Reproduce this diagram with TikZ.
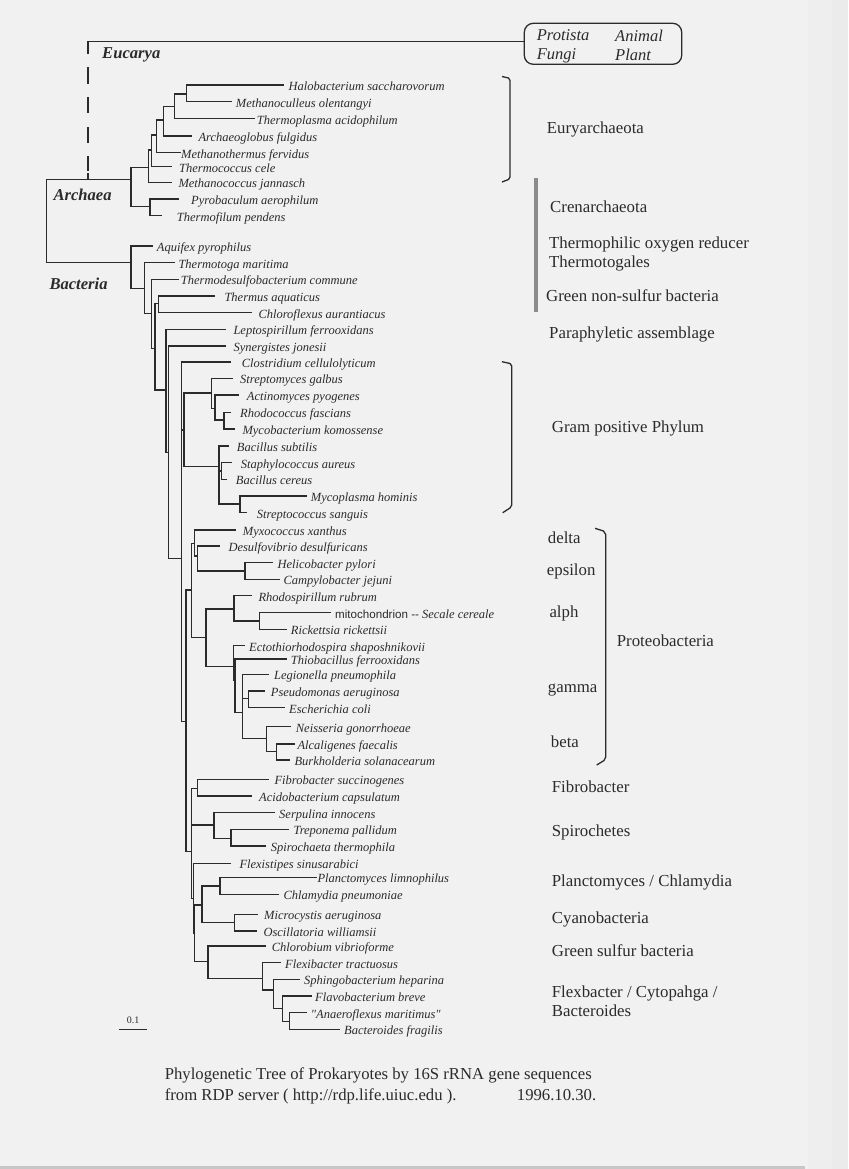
\documentclass[tikz,border=0pt]{standalone}
\usepackage{fontspec}
\setmainfont{Liberation Serif}
\newfontfamily\helv{Liberation Sans}
\definecolor{ink}{gray}{0.17}
\definecolor{bg}{gray}{0.945}
\definecolor{edge1}{gray}{0.935}
\definecolor{edge2}{gray}{0.922}
\definecolor{botband}{gray}{0.78}
\definecolor{barg}{gray}{0.55}
\tikzset{
  br/.style={line width=1.4pt, draw=ink, line cap=rect},
  brk/.style={line width=1.3pt, draw=ink, line join=round},
  lab/.style={anchor=west, inner sep=0pt, font=\fontsize{12.5}{14}\selectfont\itshape, text height=8.3pt, text depth=0pt, text=ink, yshift=-1.5pt},
  grp/.style={anchor=west, inner sep=0pt, font=\fontsize{16.8}{19}\selectfont, text height=11pt, text depth=0pt, text=ink},
  dom/.style={anchor=west, inner sep=0pt, font=\fontsize{16.6}{19}\selectfont\bfseries\itshape, text height=11pt, text depth=0pt, text=ink},
  euk/.style={anchor=west, inner sep=0pt, font=\fontsize{16.5}{19}\selectfont\itshape, text height=11pt, text depth=0pt, text=ink},
  captext/.style={anchor=west, inner sep=0pt, font=\fontsize{16.7}{19}\selectfont, text height=11pt, text depth=0pt, text=ink}
}
\begin{document}
\begin{tikzpicture}[x=1pt,y=-1pt]
\useasboundingbox (0,0) rectangle (848,1169);
% background
\fill[bg] (0,0) rectangle (848,1169);
\fill[edge1] (808,0) rectangle (848,1169);
\fill[edge2] (832,0) rectangle (848,1169);
\fill[botband] (0,1165.5) rectangle (805,1169);

% ---------- Eucarya ----------
\node[draw=ink, line width=1.3pt, rounded corners=9pt, minimum width=157.4pt, minimum height=41pt, inner sep=0pt] (eukbox) at (603,43.8) {};
\draw[br] (88,53) -- (88,41.5) -- (eukbox.west |- 0,41.5);
\draw[br] (88,68) -- (88,83);
\draw[br] (88,98) -- (88,112.5);
\draw[br] (88,128) -- (88,142);
\draw[br] (88,157) -- (88,170.5);
\draw[br] (88,174) -- (88,179.5);
\node[euk] (protista) at (536.7,35) {Protista};
\node[euk] (animal) at (615,35.7) {Animal};
\node[euk] (fungi) at (536.7,54.3) {Fungi};
\node[euk] (plant) at (615,55) {Plant};
\node[dom] (eucarya) at (102,53) {Eucarya};
\node[dom] (archaea) at (53.3,195) {Archaea};
\node[dom] (bacteria) at (49.3,284) {Bacteria};

% ---------- Root ----------
\draw[br] (131,179.5) -| (46.7,262.7) -- (131,262.7);

% ---------- Archaea ----------
\draw[br] (283,85) -| (186.7,101.7) -- (231.7,101.7);
\draw[br] (186.7,94) -| (174.3,118.7) -- (254,118.7);
\draw[br] (174.3,106.7) -| (163.3,136) -- (191.7,136);
\draw[br] (163.3,120) -| (156.7,152.7) -- (180,152.7);
\draw[br] (156.7,135) -| (151.7,166.7) -- (171.7,166.7);
\draw[br] (151.7,150) -| (148.3,182.3) -- (171.7,182.3);
\draw[br] (148.3,167.7) -| (131,206.7) -- (150,206.7);
\draw[br] (178.3,199) -| (150,215.7) -- (161.7,215.7);

\node[lab] (t1) at (288.3,85) {Halobacterium saccharovorum};
\node[lab] (t2) at (235.7,101.7) {Methanoculleus olentangyi};
\node[lab] (t3) at (256.7,118.7) {Thermoplasma acidophilum};
\node[lab] (t4) at (198.3,136) {Archaeoglobus fulgidus};
\node[lab] (t5) at (181,152.7) {Methanothermus fervidus};
\node[lab] (t6) at (179,166.7) {Thermococcus cele};
\node[lab] (t7) at (178.3,182.3) {Methanococcus jannasch};
\node[lab] (t8) at (191,199) {Pyrobaculum aerophilum};
\node[lab] (t9) at (176.7,215.7) {Thermofilum pendens};

% ---------- Bacteria backbone ----------
\draw[br] (152.3,246) -| (131,288.3) -- (144.3,288.3);
\draw[br] (174.3,262.7) -| (144.3,313.3) -- (151.7,313.3);
\draw[br] (178.3,279.3) -| (151.7,348.3) -- (155,348.3);
\draw[br] (158.3,303.3) -| (155,390) -- (166,390);
\draw[br] (214.3,296) -| (158.3,312.7) -- (251.7,312.7);
\draw[br] (225,329.3) -| (166,452.7) -- (168.3,452.7);
\draw[br] (225,346) -| (168.3,558.3) -- (181.7,558.3);
\draw[br] (230,362) -| (181.7,721.7) -- (186,721.7);
\draw[br] (181.7,430) -- (184,430);

\node[lab] (b1) at (156.7,246) {Aquifex pyrophilus};
\node[lab] (b2) at (178.3,262.7) {Thermotoga maritima};
\node[lab] (b3) at (180.7,279.3) {Thermodesulfobacterium commune};
\node[lab] (b4) at (224.3,296) {Thermus aquaticus};
\node[lab] (b5) at (258.3,312.7) {Chloroflexus aurantiacus};
\node[lab] (b6) at (233.3,329.3) {Leptospirillum ferrooxidans};
\node[lab] (b7) at (233.3,346) {Synergistes jonesii};

% ---------- Gram positive ----------
\draw[br] (211.7,393) -| (184,466.7) -- (219,466.7);
\draw[br] (232.7,378.3) -| (211.7,408.3) -- (215,408.3);
\draw[br] (238.3,395) -| (215,420) -- (224,420);
\draw[br] (230.7,412.3) -| (224,429) -- (234,429);
\draw[br] (228.3,446) -| (219,504) -- (240,504);
\draw[br] (219,471) -- (221.7,471);
\draw[br] (231.7,462.7) -| (221.7,479.3) -- (226.7,479.3);
\draw[br] (306.7,496) -| (240,512.7) -- (246.7,512.7);

\node[lab] (g1) at (241.7,362) {Clostridium cellulolyticum};
\node[lab] (g2) at (240,378.3) {Streptomyces galbus};
\node[lab] (g3) at (246.7,395) {Actinomyces pyogenes};
\node[lab] (g4) at (240,412.3) {Rhodococcus fascians};
\node[lab] (g5) at (242.3,429) {Mycobacterium komossense};
\node[lab] (g6) at (236.7,446) {Bacillus subtilis};
\node[lab] (g7) at (240.7,462.7) {Staphylococcus aureus};
\node[lab] (g8) at (235.7,479.3) {Bacillus cereus};
\node[lab] (g9) at (310.7,496) {Mycoplasma hominis};
\node[lab] (g10) at (256.7,512.7) {Streptococcus sanguis};

% ---------- Proteobacteria ----------
\draw[br] (191.7,590) -| (186,851.7) -- (191.7,851.7);
\draw[br] (194.3,543.3) -| (191.7,637.7) -- (206,637.7);
\draw[br] (235,530) -| (194.3,556) -- (197.7,556);
\draw[br] (219.3,546) -| (197.7,571) -- (245,571);
\draw[br] (272.7,562.7) -| (245,579.3) -- (279.3,579.3);
\draw[br] (234,609) -| (206,666.7) -- (233.3,666.7);
\draw[br] (251.7,595.7) -| (234,621) -- (259.3,621);
\draw[br] (330,612.7) -| (259.3,629.3) -- (286,629.3);
\draw[br] (244,645.7) -| (233.3,680) -- (235,680);
\draw[br] (286.7,659) -| (235,712.7) -- (242.7,712.7);
\draw[br] (268.3,674.3) -| (242.7,738.3) -- (266.7,738.3);
\draw[br] (242.7,698.3) -- (248.3,698.3);
\draw[br] (264,691) -| (248.3,707.7) -- (284,707.7);
\draw[br] (290.7,726.7) -| (266.7,751.7) -- (276.7,751.7);
\draw[br] (294.3,744) -| (276.7,760) -- (289.3,760);

\node[lab] (p1) at (242.7,530) {Myxococcus xanthus};
\node[lab] (p2) at (228.3,546) {Desulfovibrio desulfuricans};
\node[lab] (p3) at (277.3,562.7) {Helicobacter pylori};
\node[lab] (p4) at (283.3,579.3) {Campylobacter jejuni};
\node[lab] (p5) at (258.3,595.7) {Rhodospirillum rubrum};
\node[lab] (p6) at (335,612.7) {\upshape{\helv\fontsize{11.6}{14}\selectfont mitochondrion --} \itshape Secale cereale};
\node[lab] (p7) at (290.7,629.3) {Rickettsia rickettsii};
\node[lab] (p8) at (249,645.7) {Ectothiorhodospira shaposhnikovii};
\node[lab] (p9) at (290.7,659) {Thiobacillus ferrooxidans};
\node[lab] (p10) at (274,674.3) {Legionella pneumophila};
\node[lab] (p11) at (270.7,691) {Pseudomonas aeruginosa};
\node[lab] (p12) at (289,707.7) {Escherichia coli};
\node[lab] (p13) at (295.7,726.7) {Neisseria gonorrhoeae};
\node[lab] (p14) at (297.3,744) {Alcaligenes faecalis};
\node[lab] (p15) at (294.3,760) {Burkholderia solanacearum};

% ---------- remaining groups ----------
\draw[br] (197.3,788.3) -| (191.7,898.3) -- (193.3,898.3);
\draw[br] (268.3,779.3) -| (197.3,796) -- (251.7,796);
\draw[br] (191.7,825) -- (214,825);
\draw[br] (274,812.7) -| (214,838.3) -- (231,838.3);
\draw[br] (288.3,829.3) -| (231,846) -- (265,846);
\draw[br] (230,863.3) -| (193.3,933.3) -- (194.3,933.3);
\draw[br] (202,905) -| (194.3,961.7) -- (208,961.7);
\draw[br] (220,886) -| (202,922.7) -- (234.3,922.7);
\draw[br] (316,877.3) -| (220,894.3) -- (278.3,894.3);
\draw[br] (257.3,914.3) -| (234.3,931) -- (256.7,931);
\draw[br] (265,946) -| (208,978.3) -- (262.3,978.3);
\draw[br] (280.7,962.7) -| (262.3,990) -- (273.3,990);
\draw[br] (299.3,979.3) -| (273.3,1008.3) -- (282.7,1008.3);
\draw[br] (311.7,996) -| (282.7,1021.7) -- (289.3,1021.7);
\draw[br] (306,1012.7) -| (289.3,1029.3) -- (339.3,1029.3);

\node[lab] (r1) at (274.3,779.3) {Fibrobacter succinogenes};
\node[lab] (r2) at (259,796) {Acidobacterium capsulatum};
\node[lab] (r3) at (279,812.7) {Serpulina innocens};
\node[lab] (r4) at (293.3,829.3) {Treponema pallidum};
\node[lab] (r5) at (270.7,846) {Spirochaeta thermophila};
\node[lab] (r6) at (239.3,863.3) {Flexistipes sinusarabici};
\node[lab] (r7) at (317.3,877.3) {Planctomyces limnophilus};
\node[lab] (r8) at (283.3,894.3) {Chlamydia pneumoniae};
\node[lab] (r9) at (264,914.3) {Microcystis aeruginosa};
\node[lab] (r10) at (263.3,931) {Oscillatoria williamsii};
\node[lab] (r11) at (271.7,946) {Chlorobium vibrioforme};
\node[lab] (r12) at (285,962.7) {Flexibacter tractuosus};
\node[lab] (r13) at (304,979.3) {Sphingobacterium heparina};
\node[lab] (r14) at (315,996) {Flavobacterium breve};
\node[lab] (r15) at (310.7,1012.7) {\textquotedbl Anaeroflexus maritimus\textquotedbl};
\node[lab] (r16) at (344,1029.3) {Bacteroides fragilis};

% ---------- scale bar ----------
\node[inner sep=0pt, font=\fontsize{10}{12}\selectfont, text=ink] (scale) at (133,1020) {0.1};
\draw[br] (120,1029.3) -- (146.7,1029.3);

% ---------- brackets and group labels ----------
\draw[brk] (502,76.5) -- (508.5,78) -- (510,80.5) -- (510,177) -- (508.5,179.5) -- (502,182);
\draw[brk] (502,361.7) -- (510,363.5) -- (511.7,366) -- (511.7,505) -- (510,508) -- (502.7,512.7);
\draw[brk] (595,528.3) -- (603.5,531) -- (605.7,534.5) -- (605.7,757) -- (604,760.5) -- (596.7,765);
\fill[barg] (533.7,178.3) rectangle (538,311.7);

\node[grp] (euryarch) at (546.7,128.3) {Euryarchaeota};
\node[grp] (crenarch) at (550,206.7) {Crenarchaeota};
\node[grp] (thermo1) at (549,243.3) {Thermophilic oxygen reducer};
\node[grp] (thermo2) at (549,262.3) {Thermotogales};
\node[grp] (gnsb) at (546,295.7) {Green non-sulfur bacteria};
\node[grp] (para) at (549,333.3) {Paraphyletic assemblage};
\node[grp] (gram) at (551.7,427.3) {Gram positive Phylum};
\node[grp] (delta) at (547.7,538.3) {delta};
\node[grp] (epsilon) at (546.7,570) {epsilon};
\node[grp] (alph) at (549.3,611.7) {alph};
\node[grp] (gamma) at (547.7,687.3) {gamma};
\node[grp] (beta) at (550.7,742.3) {beta};
\node[grp] (proteo) at (616.7,640.7) {Proteobacteria};
\node[grp] (fibro) at (551.7,786.7) {Fibrobacter};
\node[grp] (spiro) at (551.7,830.7) {Spirochetes};
\node[grp] (plancto) at (551.7,880.7) {Planctomyces / Chlamydia};
\node[grp] (cyano) at (551.7,918.3) {Cyanobacteria};
\node[grp] (gsb) at (551.7,950.7) {Green sulfur bacteria};
\node[grp] (flex1) at (551.7,991.7) {Flexbacter / Cytopahga /};
\node[grp] (flex2) at (551.7,1010.7) {Bacteroides};

% ---------- caption ----------
\node[captext] (cap1) at (164.6,1074) {Phylogenetic Tree of Prokaryotes by 16S rRNA gene sequences};
\node[captext] (cap2) at (164.6,1094.5) {from RDP server ( http://rdp.life.uiuc.edu ).};
\node[captext] (cap3) at (516.7,1094.5) {1996.10.30.};
\end{tikzpicture}
\end{document}
